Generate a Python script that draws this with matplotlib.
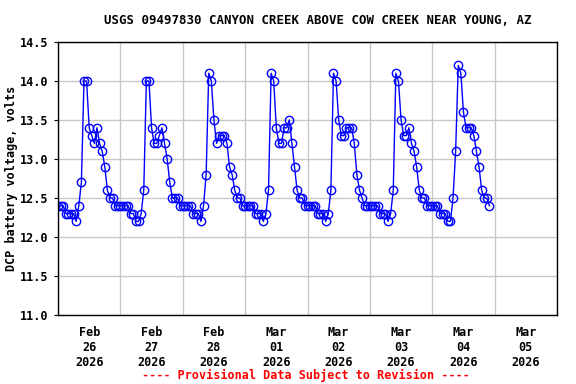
import matplotlib
matplotlib.use('Agg')
import matplotlib.pyplot as plt
import matplotlib.dates as mdates
import matplotlib.ticker as ticker
import pandas as pd

# hourly DCP battery voltage readings, one list per day
feb26 = [12.4, 12.4, 12.4, 12.3, 12.3, 12.3, 12.3, 12.2, 12.4, 12.7, 14.0, 14.0,
         13.4, 13.3, 13.2, 13.4, 13.2, 13.1, 12.9, 12.6, 12.5, 12.5, 12.4, 12.4]
feb27 = [12.4, 12.4, 12.4, 12.4, 12.3, 12.3, 12.2, 12.2, 12.3, 12.6, 14.0, 14.0,
         13.4, 13.2, 13.2, 13.3, 13.4, 13.2, 13.0, 12.7, 12.5, 12.5, 12.5, 12.4]
feb28 = [12.4, 12.4, 12.4, 12.4, 12.3, 12.3, 12.3, 12.2, 12.4, 12.8, 14.1, 14.0,
         13.5, 13.2, 13.3, 13.3, 13.3, 13.2, 12.9, 12.8, 12.6, 12.5, 12.5, 12.4]
mar01 = [12.4, 12.4, 12.4, 12.4, 12.3, 12.3, 12.3, 12.2, 12.3, 12.6, 14.1, 14.0,
         13.4, 13.2, 13.2, 13.4, 13.4, 13.5, 13.2, 12.9, 12.6, 12.5, 12.5, 12.4]
mar02 = [12.4, 12.4, 12.4, 12.4, 12.3, 12.3, 12.3, 12.2, 12.3, 12.6, 14.1, 14.0,
         13.5, 13.3, 13.3, 13.4, 13.4, 13.4, 13.2, 12.8, 12.6, 12.5, 12.4, 12.4]
mar03 = [12.4, 12.4, 12.4, 12.4, 12.3, 12.3, 12.3, 12.2, 12.3, 12.6, 14.1, 14.0,
         13.5, 13.3, 13.3, 13.4, 13.2, 13.1, 12.9, 12.6, 12.5, 12.5, 12.4, 12.4]
mar04 = [12.4, 12.4, 12.4, 12.3, 12.3, 12.3, 12.2, 12.2, 12.5, 13.1, 14.2, 14.1,
         13.6, 13.4, 13.4, 13.4, 13.3, 13.1, 12.9, 12.6, 12.5, 12.5, 12.4]

volts = feb26 + feb27 + feb28 + mar01 + mar02 + mar03 + mar04
times = pd.date_range('2026-02-26 00:00', periods=len(volts), freq='h')

title = 'USGS 09497830 CANYON CREEK ABOVE COW CREEK NEAR YOUNG, AZ'
ylabel = 'DCP battery voltage, volts'
footer = '---- Provisional Data Subject to Revision ----'

font = {'family': 'DejaVu Sans Mono', 'weight': 'bold', 'size': 8.5}

fig = plt.figure(figsize=(5.76, 3.84), dpi=100)
ax = fig.add_axes([58/576, 1 - 315/384, (557-58)/576, (315-42)/384])

ax.plot(times, volts, color='#0000FF', linewidth=1.0, marker='o', markersize=6,
        markerfacecolor='none', markeredgecolor='#0000FF', markeredgewidth=1.0)

ax.set_ylim(11.0, 14.5)
ax.set_xlim(pd.Timestamp('2026-02-26'), pd.Timestamp('2026-03-06'))
ax.yaxis.set_major_locator(ticker.MultipleLocator(0.5))
ax.yaxis.set_major_formatter(ticker.FormatStrFormatter('%.1f'))

# gridlines at midnight, labels at noon
ax.xaxis.set_major_locator(mdates.DayLocator())
ax.xaxis.set_major_formatter(ticker.NullFormatter())
ax.xaxis.set_minor_locator(mdates.HourLocator(byhour=[12]))
ax.xaxis.set_minor_formatter(mdates.DateFormatter('%b\n%d\n%Y'))
ax.tick_params(axis='x', which='both', length=0, pad=8)
ax.tick_params(axis='y', which='major', length=3, pad=4)

ax.grid(which='major', color='#c8c8c8', linewidth=1.0)
ax.set_axisbelow(True)
for s in ax.spines.values():
    s.set_linewidth(1.0)

for lab in ax.get_xticklabels(minor=True) + ax.get_yticklabels():
    lab.set_fontfamily(font['family'])
    lab.set_fontweight('bold')
    lab.set_fontsize(font['size'])

fig.text(12/576, 1 - 178/384, ylabel, rotation=90, ha='center', va='center', fontdict=font)
fig.text(318/576, 1 - 20/384, title, ha='center', va='center', fontdict=dict(font, size=8.9))
fig.text(306/576, 1 - 375/384, footer, ha='center', va='center', color='#FF0000', fontdict=font)

fig.savefig('out.png', dpi=100)
